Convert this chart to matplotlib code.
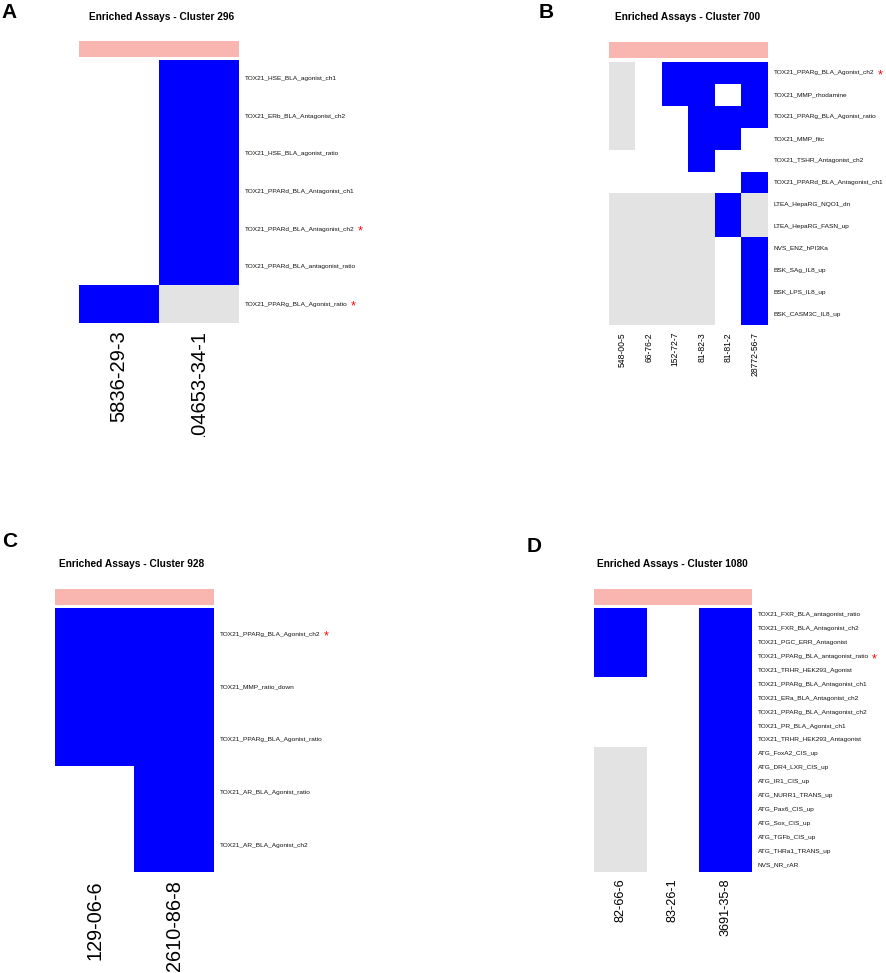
import matplotlib
matplotlib.use("Agg")
import matplotlib.pyplot as plt
import numpy as np
from matplotlib.colors import ListedColormap
from matplotlib.transforms import offset_copy, Bbox, TransformedBbox

plt.rcParams['font.family'] = ['Liberation Sans', 'DejaVu Sans']

# ---------------- data ----------------
# codes: 0 = not tested (white), 1 = inactive (grey), 2 = active (blue)
titleA = "Enriched Assays - Cluster 296"
colsA = ["5836-29-3", "104653-34-1"]
rowsA = ["TOX21_HSE_BLA_agonist_ch1", "TOX21_ERb_BLA_Antagonist_ch2",
         "TOX21_HSE_BLA_agonist_ratio", "TOX21_PPARd_BLA_Antagonist_ch1",
         "TOX21_PPARd_BLA_Antagonist_ch2", "TOX21_PPARd_BLA_antagonist_ratio",
         "TOX21_PPARg_BLA_Agonist_ratio"]
valsA = [[0, 2], [0, 2], [0, 2], [0, 2], [0, 2], [0, 2], [2, 1]]
starA = ["TOX21_PPARd_BLA_Antagonist_ch2", "TOX21_PPARg_BLA_Agonist_ratio"]

titleB = "Enriched Assays - Cluster 700"
colsB = ["548-00-5", "66-76-2", "152-72-7", "81-82-3", "81-81-2", "28772-56-7"]
rowsB = ["TOX21_PPARg_BLA_Agonist_ch2", "TOX21_MMP_rhodamine",
         "TOX21_PPARg_BLA_Agonist_ratio", "TOX21_MMP_fitc",
         "TOX21_TSHR_Antagonist_ch2", "TOX21_PPARd_BLA_Antagonist_ch1",
         "LTEA_HepaRG_NQO1_dn", "LTEA_HepaRG_FASN_up", "NVS_ENZ_hPI3Ka",
         "BSK_SAg_IL8_up", "BSK_LPS_IL8_up", "BSK_CASM3C_IL8_up"]
valsB = [[1, 0, 2, 2, 2, 2],
         [1, 0, 2, 2, 0, 2],
         [1, 0, 0, 2, 2, 2],
         [1, 0, 0, 2, 2, 0],
         [0, 0, 0, 2, 0, 0],
         [0, 0, 0, 0, 0, 2],
         [1, 1, 1, 1, 2, 1],
         [1, 1, 1, 1, 2, 1],
         [1, 1, 1, 1, 0, 2],
         [1, 1, 1, 1, 0, 2],
         [1, 1, 1, 1, 0, 2],
         [1, 1, 1, 1, 0, 2]]
starB = ["TOX21_PPARg_BLA_Agonist_ch2"]

titleC = "Enriched Assays - Cluster 928"
colsC = ["129-06-6", "2610-86-8"]
rowsC = ["TOX21_PPARg_BLA_Agonist_ch2", "TOX21_MMP_ratio_down",
         "TOX21_PPARg_BLA_Agonist_ratio", "TOX21_AR_BLA_Agonist_ratio",
         "TOX21_AR_BLA_Agonist_ch2"]
valsC = [[2, 2], [2, 2], [2, 2], [0, 2], [0, 2]]
starC = ["TOX21_PPARg_BLA_Agonist_ch2"]

titleD = "Enriched Assays - Cluster 1080"
colsD = ["82-66-6", "83-26-1", "3691-35-8"]
rowsD = ["TOX21_FXR_BLA_antagonist_ratio", "TOX21_FXR_BLA_Antagonist_ch2",
         "TOX21_PGC_ERR_Antagonist", "TOX21_PPARg_BLA_antagonist_ratio",
         "TOX21_TRHR_HEK293_Agonist", "TOX21_PPARg_BLA_Antagonist_ch1",
         "TOX21_ERa_BLA_Antagonist_ch2", "TOX21_PPARg_BLA_Antagonist_ch2",
         "TOX21_PR_BLA_Agonist_ch1", "TOX21_TRHR_HEK293_Antagonist",
         "ATG_FoxA2_CIS_up", "ATG_DR4_LXR_CIS_up", "ATG_IR1_CIS_up",
         "ATG_NURR1_TRANS_up", "ATG_Pax6_CIS_up", "ATG_Sox_CIS_up",
         "ATG_TGFb_CIS_up", "ATG_THRa1_TRANS_up", "NVS_NR_rAR"]
valsD = [[2, 0, 2]] * 5 + [[0, 0, 2]] * 5 + [[1, 0, 2]] * 9
starD = ["TOX21_PPARg_BLA_antagonist_ratio"]

letters = ["A", "B", "C", "D"]

# ---------------- drawing ----------------
W, H = 886, 973
fig = plt.figure(figsize=(W / 100, H / 100), dpi=100)

cmap = ListedColormap(["#FFFFFF", "#E3E3E3", "#0000FF"])
pink = ListedColormap(["#F9B5AF"])


def px_axes(x0, y0, x1, y1):
    return fig.add_axes([x0 / W, 1 - y1 / H, (x1 - x0) / W, (y1 - y0) / H])


def panel(title, cols, rows, vals, stars, letter, letter_xy, title_xy,
          ann_y, heat_box, col_fs, col_gap, clip_y=None):
    x0, y0, x1, y1 = heat_box
    # annotation bar
    axa = px_axes(x0, ann_y[0], x1, ann_y[1])
    axa.imshow(np.zeros((1, len(cols))), cmap=pink, aspect='auto',
               interpolation='nearest')
    axa.axis('off')
    # heatmap
    ax = px_axes(x0, y0, x1, y1)
    ax.imshow(np.array(vals), cmap=cmap, vmin=-0.5, vmax=2.5, aspect='auto',
              interpolation='nearest')
    ax.axis('off')
    nr, nc = len(rows), len(cols)
    tr_row = offset_copy(ax.transData, fig=fig, x=6, y=0, units='dots')
    for i, r in enumerate(rows):
        t = ax.text(nc - 0.5, i, r, transform=tr_row, fontsize=4.65,
                    ha='left', va='center', color='#111111')
        if r in stars:
            ax.annotate("*", xy=(1, 0.5), xycoords=t, xytext=(3, -2.5),
                        textcoords='offset pixels', color='red',
                        fontsize=9, ha='left', va='center')
    tr_col = offset_copy(ax.transData, fig=fig, x=0, y=-col_gap, units='dots')
    for j, c in enumerate(cols):
        t = ax.text(j, nr - 0.5, c, transform=tr_col, rotation=90,
                    fontsize=col_fs, ha='center', va='top', clip_on=False)
        if clip_y is not None:
            bb = TransformedBbox(Bbox.from_extents(0, 1 - clip_y / H, 0.5, 1),
                                 fig.transFigure)
            t.set_clip_on(True)
            t.set_clip_box(bb)
    fig.text(title_xy[0] / W, 1 - title_xy[1] / H, title, fontsize=7.3,
             fontweight='bold', ha='center', va='center')
    fig.text(letter_xy[0] / W, 1 - letter_xy[1] / H, letter, fontsize=15,
             fontweight='bold', ha='left', va='top')


panel(titleA, colsA, rowsA, valsA, starA, letters[0], (1, 3), (162, 17),
      (41, 57), (79, 60, 239, 323), 14.5, 7, clip_y=437)
panel(titleB, colsB, rowsB, valsB, starB, letters[1], (539, 3), (688, 17),
      (42, 58), (609, 62, 768, 325), 6.2, 7)
panel(titleC, colsC, rowsC, valsC, starC, letters[2], (2, 532), (132, 564),
      (589, 605), (55, 608, 214, 872), 14.3, 8)
panel(titleD, colsD, rowsD, valsD, starD, letters[3], (527, 537), (672, 564),
      (589, 605), (594, 608, 752, 872), 9.1, 6)

fig.savefig("out.png", dpi=100)
